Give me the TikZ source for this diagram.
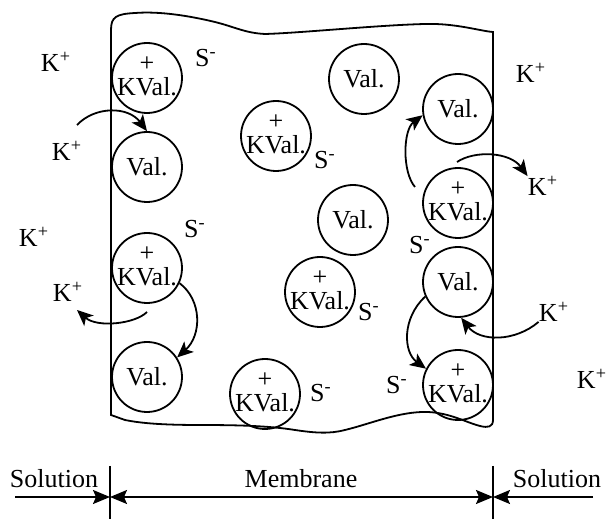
\documentclass[tikz,border=0pt]{standalone}
\usepackage{fontspec}
\setmainfont{Liberation Serif}
\usepackage{tikz}
\usetikzlibrary{arrows.meta,calc}

\tikzset{
  ion/.style={draw, circle, line width=0.9pt, minimum size=35pt, inner sep=0pt},
  lbl/.style={inner sep=0pt},
  hop/.style={line width=0.9pt, -{Stealth[length=8pt,width=7pt,inset=2pt]}},
  dimtip/.style={line width=0.9pt},
}
\newcommand{\kvtxt}{\raisebox{-9pt}[0pt][0pt]{\shortstack{+\\KVal.}}}

\begin{document}
\begin{tikzpicture}[x=0.5pt, y=-0.5pt, font=\fontsize{13}{15.6}\selectfont]
    \useasboundingbox (0,0) rectangle (607,519);

    % membrane outline
    \draw[line width=0.9pt] (111,415) -- (111,30)
        .. controls (111,17) and (116,14) .. (135,13)
        .. controls (160,11) and (190,16) .. (215,22)
        .. controls (235,27) and (245,33) .. (265,34)
        .. controls (300,33) and (380,25) .. (425,24)
        .. controls (455,23) and (480,31) .. (493,32)
        -- (493,420)
        .. controls (493,427) and (488,428) .. (480,426)
        .. controls (465,422) and (450,413) .. (428,412)
        .. controls (400,411) and (370,424) .. (345,430)
        .. controls (330,434) and (315,433) .. (295,430)
        .. controls (270,426) and (240,425) .. (200,425)
        .. controls (160,425) and (140,423) .. (125,420)
        -- cycle;

    % carriers, left wall
    \node [ion] (kv1) at (147,78) {\kvtxt};
    \node [ion] (v1) at (147,167) {Val.};
    \node [ion] (kv2) at (147,268) {\kvtxt};
    \node [ion] (v2) at (147,377) {Val.};

    % carriers, inside
    \node [ion] (kv3) at (276,136) {\kvtxt};
    \node [ion] (v3) at (364,79) {Val.};
    \node [ion] (v4) at (353,220) {Val.};
    \node [ion] (kv4) at (320,292) {\kvtxt};
    \node [ion] (kv5) at (265,394) {\kvtxt};

    % carriers, right wall
    \node [ion] (v5) at (458,109) {Val.};
    \node [ion] (kv6) at (458,203) {\kvtxt};
    \node [ion] (v6) at (458,282) {Val.};
    \node [ion] (kv7) at (458,385) {\kvtxt};

    % potassium ions
    \node [lbl] (kp1) at (56,62) {K\textsuperscript{+}};
    \node [lbl] (kp2) at (67,151) {K\textsuperscript{+}};
    \node [lbl] (kp3) at (34,237) {K\textsuperscript{+}};
    \node [lbl] (kp4) at (68,292) {K\textsuperscript{+}};
    \node [lbl] (kp5) at (531,73) {K\textsuperscript{+}};
    \node [lbl] (kp6) at (543,186) {K\textsuperscript{+}};
    \node [lbl] (kp7) at (554,312) {K\textsuperscript{+}};
    \node [lbl] (kp8) at (592,379) {K\textsuperscript{+}};

    % anions
    \node [lbl] (s1) at (206,58) {S\textsuperscript{-}};
    \node [lbl] (s2) at (195,229) {S\textsuperscript{-}};
    \node [lbl] (s3) at (325,160) {S\textsuperscript{-}};
    \node [lbl] (s4) at (420,245) {S\textsuperscript{-}};
    \node [lbl] (s5) at (369,312) {S\textsuperscript{-}};
    \node [lbl] (s6) at (321,393) {S\textsuperscript{-}};
    \node [lbl] (s7) at (397,385) {S\textsuperscript{-}};

    % free arrow ends
    \coordinate (in1) at (77,125);
    \coordinate (out1) at (147,312);
    \coordinate (out1e) at (77,310);
    \coordinate (up1) at (415,187);
    \coordinate (out2) at (457,162);

    \draw[hop] (in1) .. controls (95,106) and (128,106) .. (v1.north);
    \draw[hop] (out1) .. controls (135,324) and (97,328) .. (out1e);
    \draw[hop] (kv2.-25) .. controls (202,300) and (202,335) .. (v2.33);
    \draw[hop] (up1) .. controls (402,172) and (403,130) .. (v5.190);
    \draw[hop] (out2) .. controls (475,150) and (510,152) .. (kp6.north west);
    \draw[hop] (kp7.south west) .. controls (515,342) and (480,342) .. (v6.-85);
    \draw[hop] (v6.204) .. controls (402,318) and (403,352) .. (kv7.153);

    % phases
    \coordinate (lwall) at (110,497);
    \coordinate (rwall) at (493,497);
    \coordinate (lend) at (15,497);
    \coordinate (rend) at (593,497);
    \draw[line width=0.9pt] ($(lwall)+(0,-31)$) -- ($(lwall)+(0,22)$);
    \draw[line width=0.9pt] ($(rwall)+(0,-31)$) -- ($(rwall)+(0,22)$);
    \draw[dimtip, -{Stealth[length=8.5pt,width=7pt,inset=1.5pt]}] (lend) -- (lwall);
    \draw[dimtip, {Stealth[length=8.5pt,width=7pt,inset=1.5pt]}-{Stealth[length=8.5pt,width=7pt,inset=1.5pt]}] (lwall) -- (rwall);
    \draw[dimtip, -{Stealth[length=8.5pt,width=7pt,inset=1.5pt]}] (rend) -- (rwall);

    \node [lbl] (sol1) at (54,479) {Solution};
    \node [lbl] (mem) at (301,479) {Membrane};
    \node [lbl] (sol2) at (557,479) {Solution};
\end{tikzpicture}
\end{document}
